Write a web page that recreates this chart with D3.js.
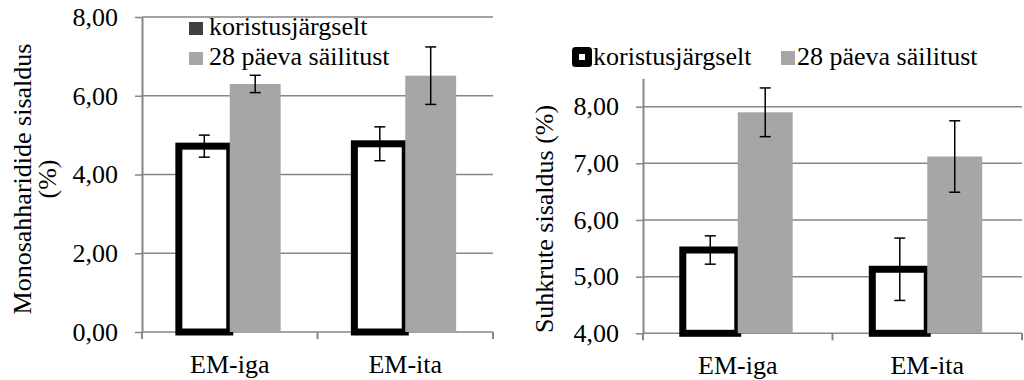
<!DOCTYPE html>
<html>
<head>
<meta charset="utf-8">
<script src="https://cdn.jsdelivr.net/npm/d3@7"></script>
</head>
<body style="margin:0;background:#fff">
<svg id="chart" width="1024" height="380"></svg>
<script>
var categories = ["EM-iga", "EM-ita"];
var series = ["koristusjärgselt", "28 päeva säilitust"];

// monosahhariidid (%)
var monoFresh = [4.72, 4.78];
var monoFreshErr = [0.28, 0.43];
var monoStored = [6.30, 6.51];
var monoStoredErr = [0.22, 0.73];
var monoTicks = [0, 2, 4, 6, 8];

// sahharoos (%)
var sugarFresh = [5.47, 5.13];
var sugarFreshErr = [0.25, 0.55];
var sugarStored = [7.90, 7.12];
var sugarStoredErr = [0.43, 0.63];
var sugarTicks = [4, 5, 6, 7, 8];

var gridColor = "#868686",
    grayFill = "#a6a6a6";

var svg = d3.select("#chart");
var fmt = function (d) { return d3.format(".2f")(d).replace(".", ","); };

function serifText(sel) {
    sel.attr("font-family", "Liberation Serif")
        .attr("font-size", 26)
        .style("font-family", "'Liberation Serif'")
        .style("font-size", "26px")
        .attr("fill", "#000");
}

function drawChart(opt) {
    var g = svg.append("g");

    var y = d3.scaleLinear().domain(opt.yDomain).range([opt.bottom, opt.top]);
    var x = d3.scaleBand().domain(categories).range([opt.left, opt.right]);
    var bw = x.bandwidth();
    var xs = d3.scaleBand().domain(series).range([bw * 0.21, bw * 0.79]);

    // gridlines
    g.selectAll(".grid")
        .data(opt.ticks)
        .enter().append("line")
        .attr("x1", opt.left).attr("x2", opt.right)
        .attr("y1", function (d) { return y(d); })
        .attr("y2", function (d) { return y(d); })
        .attr("stroke", gridColor)
        .attr("stroke-width", 1.5);

    // y axis
    var yAxis = g.append("g")
        .attr("transform", "translate(" + opt.left + ",0)")
        .call(d3.axisLeft(y).tickValues(opt.ticks).tickFormat(fmt).tickSize(7).tickSizeOuter(0).tickPadding(17));
    yAxis.select(".domain").attr("stroke", gridColor).attr("stroke-width", 2);
    yAxis.selectAll(".tick line").attr("stroke", gridColor).attr("stroke-width", 1.5);
    yAxis.selectAll(".tick text").call(serifText);

    // category boundary ticks
    var bounds = categories.map(function (c) { return x(c); }).concat([opt.right]);
    g.selectAll(".btick")
        .data(bounds)
        .enter().append("line")
        .attr("x1", function (d) { return d; }).attr("x2", function (d) { return d; })
        .attr("y1", opt.bottom).attr("y2", opt.bottom + 7)
        .attr("stroke", gridColor)
        .attr("stroke-width", 2);

    // x labels
    var xAxis = g.append("g")
        .attr("transform", "translate(0," + opt.bottom + ")")
        .call(d3.axisBottom(x).tickSize(0).tickPadding(opt.labelPad));
    xAxis.select(".domain").remove();
    xAxis.selectAll(".tick text").call(serifText);

    // bars: fresh (outlined), stored (gray)
    g.selectAll(".fresh")
        .data(categories)
        .enter().append("rect")
        .attr("x", function (d) { return x(d) + xs(series[0]); })
        .attr("y", function (d, i) { return y(opt.fresh[i]); })
        .attr("width", xs.bandwidth())
        .attr("height", function (d, i) { return opt.bottom - y(opt.fresh[i]); })
        .attr("fill", "#fff")
        .attr("stroke", "#000")
        .attr("stroke-width", 7);

    g.selectAll(".stored")
        .data(categories)
        .enter().append("rect")
        .attr("x", function (d) { return x(d) + xs(series[1]); })
        .attr("y", function (d, i) { return y(opt.stored[i]); })
        .attr("width", xs.bandwidth())
        .attr("height", function (d, i) { return opt.bottom - y(opt.stored[i]); })
        .attr("fill", grayFill);

    // error bars
    var errs = [];
    categories.forEach(function (c, i) {
        errs.push({ cx: x(c) + xs(series[0]) + xs.bandwidth() / 2, v: opt.fresh[i], e: opt.freshErr[i] });
        errs.push({ cx: x(c) + xs(series[1]) + xs.bandwidth() / 2, v: opt.stored[i], e: opt.storedErr[i] });
    });
    var eb = g.selectAll(".err").data(errs).enter().append("g");
    eb.append("line")
        .attr("x1", function (d) { return d.cx; }).attr("x2", function (d) { return d.cx; })
        .attr("y1", function (d) { return y(d.v + d.e); })
        .attr("y2", function (d) { return y(d.v - d.e); });
    eb.append("line")
        .attr("x1", function (d) { return d.cx - 5.5; }).attr("x2", function (d) { return d.cx + 5.5; })
        .attr("y1", function (d) { return y(d.v + d.e); })
        .attr("y2", function (d) { return y(d.v + d.e); });
    eb.append("line")
        .attr("x1", function (d) { return d.cx - 5.5; }).attr("x2", function (d) { return d.cx + 5.5; })
        .attr("y1", function (d) { return y(d.v - d.e); })
        .attr("y2", function (d) { return y(d.v - d.e); });
    eb.selectAll("line").attr("stroke", "#000").attr("stroke-width", 1.5);

    // y label
    opt.yLabel.forEach(function (t, i) {
        svg.append("text")
            .attr("transform", "translate(" + opt.yLabelX[i] + "," + opt.yLabelY + ") rotate(-90)")
            .attr("text-anchor", "middle")
            .call(serifText)
            .text(t);
    });
}

drawChart({
    left: 142, right: 493, top: 17, bottom: 332,
    yDomain: [0, 8], ticks: monoTicks, labelPad: 22.5,
    fresh: monoFresh, freshErr: monoFreshErr,
    stored: monoStored, storedErr: monoStoredErr,
    yLabel: ["Monosahharidide sisaldus", "(%)"], yLabelX: [31, 56], yLabelY: 179
});

drawChart({
    left: 643, right: 1022, top: 78.3, bottom: 333.3,
    yDomain: [4, 8.5], ticks: sugarTicks, labelPad: 22,
    fresh: sugarFresh, freshErr: sugarFreshErr,
    stored: sugarStored, storedErr: sugarStoredErr,
    yLabel: ["Suhkrute sisaldus (%)"], yLabelX: [553], yLabelY: 219
});

// legend, left chart (inside plot)
var legL = svg.append("g");
legL.append("rect").attr("x", 189).attr("y", 22).attr("width", 14).attr("height", 13).attr("fill", "#404040");
legL.append("text").attr("x", 209).attr("y", 35).call(serifText).text(series[0]);
legL.append("rect").attr("x", 189).attr("y", 52).attr("width", 14).attr("height", 13).attr("fill", grayFill);
legL.append("text").attr("x", 209).attr("y", 65).call(serifText).text(series[1]);

// legend, right chart (above plot)
var legR = svg.append("g");
legR.append("rect").attr("x", 575.5).attr("y", 50.5).attr("width", 13).attr("height", 13)
    .attr("fill", "#fff").attr("stroke", "#000").attr("stroke-width", 7).attr("stroke-linejoin", "round");
legR.append("text").attr("x", 593).attr("y", 65).call(serifText).text(series[0]);
legR.append("rect").attr("x", 781).attr("y", 51).attr("width", 14).attr("height", 14).attr("fill", grayFill);
legR.append("text").attr("x", 797).attr("y", 65).call(serifText).text(series[1]);
</script>
</body>
</html>
